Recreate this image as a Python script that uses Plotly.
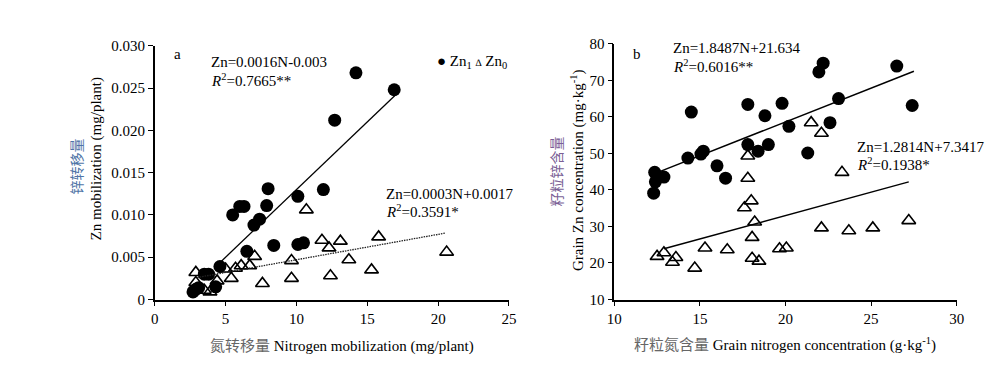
import plotly.graph_objects as go

# ---------------- Panel a data ----------------
a_zn1_x = [2.7, 2.9, 3.1, 3.5, 3.8, 4.3, 4.6, 5.5, 6.0, 6.3, 6.5, 7.0, 7.4, 7.9, 8.0, 8.4, 10.1, 10.1, 10.5, 11.9, 12.7, 14.2, 16.9]
a_zn1_y = [0.0009, 0.0012, 0.0014, 0.0030, 0.0030, 0.0015, 0.0039, 0.0100, 0.0110, 0.0110, 0.0057, 0.0088, 0.0095, 0.0111, 0.0131, 0.0064, 0.0122, 0.0065, 0.0067, 0.0130, 0.0212, 0.0268, 0.0248]
a_zn0_x = [2.9, 2.9, 3.5, 3.9, 4.4, 5.0, 5.4, 5.7, 6.1, 6.7, 7.05, 7.6, 9.65, 9.65, 10.7, 11.8, 12.3, 12.4, 13.1, 13.7, 15.3, 15.8, 20.6]
a_zn0_y = [0.0032, 0.0020, 0.0011, 0.0009, 0.0022, 0.0036, 0.0025, 0.0037, 0.0040, 0.0040, 0.0051, 0.0019, 0.0046, 0.0025, 0.0106, 0.0070, 0.0061, 0.0028, 0.0069, 0.0047, 0.0035, 0.0074, 0.0056]
a_fit1 = (0.0016, -0.003, 4.3, 17.1)     # slope, intercept, x start, x end
a_fit0 = (0.0003, 0.0017, 3.0, 20.5)

# ---------------- Panel b data ----------------
b_zn1_x = [12.3, 12.36, 12.4, 12.9, 14.3, 14.5, 15.06, 15.2, 16.0, 16.5, 17.8, 17.8, 18.4, 18.8, 19.0, 19.8, 20.2, 21.3, 21.95, 22.2, 22.6, 23.1, 26.5, 27.4]
b_zn1_y = [39.1, 44.8, 42.2, 43.5, 48.7, 61.3, 49.8, 50.6, 46.6, 43.2, 63.4, 52.4, 50.6, 60.3, 52.4, 63.7, 57.4, 50.1, 72.3, 74.7, 58.4, 65.0, 73.9, 63.1]
b_zn0_x = [12.5, 12.9, 13.4, 13.6, 14.7, 15.3, 16.6, 17.6, 17.8, 17.8, 18.0, 18.05, 18.05, 18.2, 18.45, 19.65, 20.05, 21.5, 22.1, 22.1, 23.3, 23.7, 25.1, 27.2]
b_zn0_y = [21.8, 22.8, 20.2, 21.5, 18.6, 24.1, 23.6, 35.1, 49.3, 43.2, 37.0, 27.0, 21.3, 31.2, 20.5, 23.9, 24.1, 58.4, 55.5, 29.6, 44.8, 28.8, 29.6, 31.6]
b_fit1 = (1.8487, 21.634, 12.5, 27.5)
b_fit0 = (1.2814, 7.3417, 12.9, 27.2)

a_xticks = [0, 5, 10, 15, 20, 25]
a_yticks = [0, 0.005, 0.010, 0.015, 0.020, 0.025, 0.030]
a_ytext = ["0", "0.005", "0.010", "0.015", "0.020", "0.025", "0.030"]
b_xticks = [10, 15, 20, 25, 30]
b_yticks = [10, 20, 30, 40, 50, 60, 70, 80]

SERIF = "Liberation Serif"
CJK = "Noto Sans CJK SC"

def line_pts(fit):
    m, c, x0, x1 = fit
    return [x0, x1], [m * x0 + c, m * x1 + c]

fig = go.Figure()

circ = dict(symbol="circle", size=13, color="black", line=dict(width=0))
tri = dict(symbol="triangle-up-open", size=12, color="black", line=dict(width=1.6))

fig.add_trace(go.Scatter(x=a_zn1_x, y=a_zn1_y, mode="markers", marker=circ,
                         name="Zn1", xaxis="x", yaxis="y"))
fig.add_trace(go.Scatter(x=a_zn0_x, y=a_zn0_y, mode="markers", marker=tri,
                         name="Zn0", xaxis="x", yaxis="y"))
lx, ly = line_pts(a_fit1)
fig.add_trace(go.Scatter(x=lx, y=ly, mode="lines", line=dict(color="black", width=1.3),
                         xaxis="x", yaxis="y"))
lx, ly = line_pts(a_fit0)
fig.add_trace(go.Scatter(x=lx, y=ly, mode="lines", line=dict(color="#222222", width=1.3, dash="1.5px,1px"),
                         xaxis="x", yaxis="y"))

fig.add_trace(go.Scatter(x=b_zn1_x, y=b_zn1_y, mode="markers", marker=circ,
                         xaxis="x2", yaxis="y2"))
fig.add_trace(go.Scatter(x=b_zn0_x, y=b_zn0_y, mode="markers", marker=tri,
                         xaxis="x2", yaxis="y2"))
lx, ly = line_pts(b_fit1)
fig.add_trace(go.Scatter(x=lx, y=ly, mode="lines", line=dict(color="black", width=1.5),
                         xaxis="x2", yaxis="y2"))
lx, ly = line_pts(b_fit0)
fig.add_trace(go.Scatter(x=lx, y=ly, mode="lines", line=dict(color="black", width=1.5),
                         xaxis="x2", yaxis="y2"))

axis_common = dict(showgrid=False, zeroline=False, showline=True, linecolor="black", linewidth=1.5,
                   ticks="outside", ticklen=5, tickwidth=1.2, tickcolor="black",
                   tickfont=dict(family=SERIF, size=15, color="black"))

fig.update_layout(
    width=1000, height=379,
    margin=dict(l=0, r=0, t=0, b=0),
    paper_bgcolor="white", plot_bgcolor="white",
    showlegend=False,
    font=dict(family=SERIF),
    xaxis=dict(domain=[0.141, 0.501], range=[0, 25], tickvals=a_xticks, anchor="y", **axis_common),
    yaxis=dict(domain=[0.219, 0.918], range=[0, 0.030], tickvals=a_yticks, ticktext=a_ytext,
               anchor="x", **axis_common),
    xaxis2=dict(domain=[0.608, 0.956], range=[10, 30], tickvals=b_xticks, anchor="y2", **axis_common),
    yaxis2=dict(domain=[0.219, 0.9235], range=[10, 80], tickvals=b_yticks, anchor="x2", **axis_common),
)

eq_font = dict(family=SERIF, size=15, color="black")

def ann(x, y, text, font=eq_font, angle=0, xanchor="left", yanchor="middle"):
    fig.add_annotation(x=x, y=y, xref="paper", yref="paper", text=text, showarrow=False,
                       font=font, textangle=angle, xanchor=xanchor, yanchor=yanchor)

def px(xp, yp):
    return xp / 1000, 1 - yp / 379

# legend (symbol key)
ann(*px(426, 48), "<span style='font-size:15px'>●</span> Zn<sub>1</sub> <span style='font-size:10px'>∆</span> Zn<sub>0</sub>")

# panel letters
ann(*px(159, 40), "a")
ann(*px(625, 40), "b")
# panel a equations
ann(*px(196, 48), "Zn=0.0016N-0.003")
ann(*px(196, 67), "<i>R</i><sup>2</sup>=0.7665**")
ann(*px(374, 186), "Zn=0.0003N+0.0017")
ann(*px(374, 204), "<i>R</i><sup>2</sup>=0.3591*")
# panel b equations
ann(*px(666, 33), "Zn=1.8487N+21.634")
ann(*px(666, 52), "<i>R</i><sup>2</sup>=0.6016**")
ann(*px(853, 137), "Zn=1.2814N+7.3417")
ann(*px(853, 155), "<i>R</i><sup>2</sup>=0.1938*")

# axis titles
ann(*px(61, 157), "锌转移量", font=dict(family=CJK, size=14, color="#4f74a6"), angle=-90, xanchor="center")
ann(*px(82, 149), "Zn mobilization (mg/plant)", font=dict(family=SERIF, size=15, color="black"), angle=-90, xanchor="center")
ann(*px(549, 162), "籽粒锌含量", font=dict(family=CJK, size=14, color="#7a5f95"), angle=-90, xanchor="center")
ann(*px(570, 161), "Grain Zn concentration (mg·kg<sup>-1</sup>)", font=dict(family=SERIF, size=15, color="black"), angle=-90, xanchor="center")
ann(*px(331, 343), "<span style='font-family:Noto Sans CJK SC;color:#666'>氮转移量</span> Nitrogen mobilization (mg/plant)",
    font=dict(family=SERIF, size=15, color="black"), xanchor="center")
ann(*px(782, 342), "<span style='font-family:Noto Sans CJK SC;color:#666'>籽粒氮含量</span> Grain nitrogen concentration (g·kg<sup>-1</sup>)",
    font=dict(family=SERIF, size=15, color="black"), xanchor="center")

fig.write_html("out.html")
